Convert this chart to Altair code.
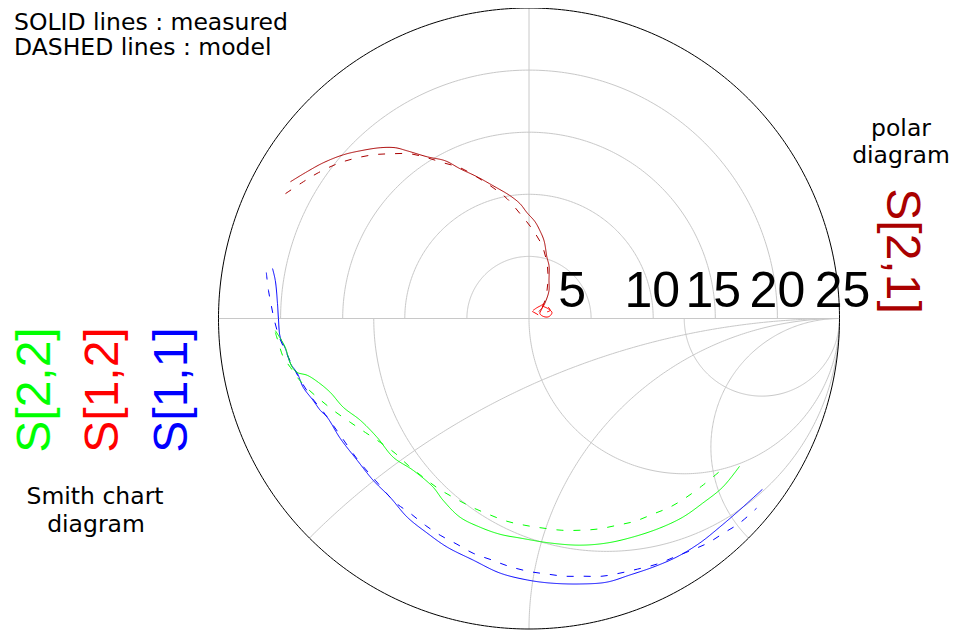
import numpy as np
import pandas as pd
import altair as alt

# ---------------- data ----------------
# S[2,1] on the polar diagram (linear magnitude, real / imaginary parts)
s21_meas_re = [-19.21, -18.01, -16.56, -14.95, -13.59, -11.98, -10.77, -9.81, -8.20, -6.75,
               -5.55, -4.18, -2.89, -1.53, -0.72, -0.16, 0.48, 0.88, 1.21, 1.45,
               1.61, 1.61, 1.61, 1.37, 1.13, 0.80]
s21_meas_im = [11.01, 11.74, 12.54, 13.18, 13.50, 13.75, 13.75, 13.50, 13.02, 12.70,
               12.06, 11.41, 10.69, 9.89, 9.24, 8.52, 7.80, 7.07, 6.27, 4.90,
               4.26, 3.05, 2.25, 1.45, 0.96, 0.56]
s21_model_re = [-19.61, -18.17, -16.96, -15.43, -14.15, -12.54, -11.17, -9.57, -8.20, -6.91,
                -5.55, -4.10, -2.89, -1.77, -0.72, 0.24, 1.05, 1.45, 1.53, 1.45,
                1.29, 0.96]
s21_model_im = [10.05, 11.01, 11.74, 12.46, 12.86, 13.18, 13.26, 13.26, 12.94, 12.54,
                12.14, 11.33, 10.53, 9.65, 8.44, 7.23, 5.87, 4.42, 3.30, 2.25,
                1.45, 0.72]

# Smith chart reflection coefficients (real / imaginary parts)
s11_meas_re = [-0.826, -0.817, -0.810, -0.807, -0.801, -0.785, -0.768, -0.746, -0.727, -0.695,
               -0.672, -0.650, -0.608, -0.553, -0.502, -0.447, -0.392, -0.328, -0.264, -0.180,
               -0.093, -0.006, 0.068, 0.164, 0.251, 0.325, 0.399, 0.476, 0.550, 0.614,
               0.678, 0.752]
s11_meas_im = [0.161, 0.122, 0.048, 0.000, -0.061, -0.096, -0.145, -0.177, -0.222, -0.264,
               -0.296, -0.318, -0.386, -0.457, -0.521, -0.576, -0.640, -0.691, -0.736, -0.778,
               -0.820, -0.842, -0.852, -0.855, -0.849, -0.826, -0.801, -0.768, -0.723, -0.672,
               -0.617, -0.550]
s11_model_re = [-0.846, -0.839, -0.830, -0.820, -0.804, -0.785, -0.762, -0.736, -0.698, -0.656,
                -0.608, -0.550, -0.495, -0.431, -0.383, -0.334, -0.286, -0.232, -0.180, -0.119,
                -0.068, -0.003, 0.058, 0.116, 0.174, 0.235, 0.293, 0.350, 0.412, 0.469,
                0.524, 0.576, 0.627, 0.678, 0.733]
s11_model_im = [0.148, 0.090, 0.042, -0.006, -0.061, -0.103, -0.151, -0.199, -0.257, -0.309,
                -0.376, -0.457, -0.521, -0.592, -0.627, -0.666, -0.698, -0.727, -0.756, -0.778,
                -0.797, -0.814, -0.823, -0.830, -0.830, -0.830, -0.820, -0.807, -0.791, -0.768,
                -0.746, -0.723, -0.691, -0.659, -0.611]

s22_meas_re = [-0.817, -0.801, -0.785, -0.775, -0.762, -0.746, -0.714, -0.678, -0.640, -0.598,
               -0.543, -0.489, -0.437, -0.373, -0.309, -0.277, -0.222, -0.158, -0.093, -0.029,
               0.068, 0.164, 0.251, 0.334, 0.421, 0.495, 0.559, 0.624, 0.678]
s22_meas_im = [-0.039, -0.064, -0.093, -0.125, -0.158, -0.174, -0.183, -0.206, -0.238, -0.286,
               -0.328, -0.383, -0.447, -0.489, -0.543, -0.585, -0.640, -0.672, -0.695, -0.707,
               -0.723, -0.730, -0.723, -0.704, -0.675, -0.640, -0.595, -0.543, -0.476]
s22_model_re = [-0.817, -0.807, -0.791, -0.768, -0.746, -0.714, -0.678, -0.630, -0.576, -0.527,
                -0.479, -0.431, -0.389, -0.341, -0.293, -0.244, -0.183, -0.132, -0.071, -0.013,
                0.045, 0.106, 0.164, 0.222, 0.283, 0.341, 0.399, 0.453, 0.502, 0.556, 0.611]
s22_model_im = [-0.045, -0.077, -0.125, -0.158, -0.190, -0.225, -0.257, -0.296, -0.334, -0.367,
                -0.399, -0.434, -0.473, -0.511, -0.547, -0.576, -0.608, -0.630, -0.653, -0.666,
                -0.675, -0.682, -0.682, -0.678, -0.666, -0.653, -0.630, -0.608, -0.579, -0.540,
                -0.495]

s12_meas_re = [0.013, 0.026, 0.039, 0.048, 0.042, 0.035, 0.048, 0.064, 0.074, 0.061, 0.045]
s12_meas_im = [0.026, 0.035, 0.042, 0.048, 0.032, 0.016, 0.006, 0.006, 0.019, 0.032, 0.039]
s12_model_re = [0.010, 0.023, 0.035, 0.051, 0.068, 0.058, 0.039]
s12_model_im = [0.023, 0.016, 0.010, 0.019, 0.026, 0.039, 0.035]

polar_ticks = [5, 10, 15, 20, 25]
polar_max = 25
smith_r = [1 / 3, 1, 3]
smith_x = [0.4142, 1.0, 2.4142]

series_names = ["S[2,1]", "S[1,2]", "S[1,1]", "S[2,2]"]
series_colors = ["#aa0000", "#ff0000", "#0000ff", "#00ff00"]

# ---------------- layout ----------------
W, H = 946, 622          # plot area (page x 8..954, y 8..630)
CX, CY, R = 521.0, 310.5, 310.5   # circle centre / radius in plot pixels
umin, umax = (0 - CX) / R, (W - CX) / R
vmin, vmax = (CY - H) / R, (CY - 0) / R

X = alt.X("u:Q", scale=alt.Scale(domain=[umin, umax], nice=False, zero=False), axis=None)
Y = alt.Y("v:Q", scale=alt.Scale(domain=[vmin, vmax], nice=False, zero=False), axis=None)

# ---------------- grid ----------------
grid_rows = []


def add(gid, us, vs, rows):
    for k, (a, b) in enumerate(zip(us, vs)):
        rows.append({"g": gid, "k": k, "u": float(a), "v": float(b)})


t_up = np.linspace(0, np.pi, 241)
for r in polar_ticks[:-1]:
    rr = r / polar_max
    add(f"p{r}", rr * np.cos(t_up), rr * np.sin(t_up), grid_rows)
add("vert", [0, 0], [0, 1], grid_rows)
add("horiz", [-1, 1], [0, 0], grid_rows)
t_low = np.linspace(np.pi, 2 * np.pi, 241)
for i, r in enumerate(smith_r):
    c, rad = r / (1 + r), 1 / (1 + r)
    add(f"r{i}", c + rad * np.cos(t_low), rad * np.sin(t_low), grid_rows)
for i, x in enumerate(smith_x):
    cx, cy, rad = 1.0, -1.0 / x, 1.0 / x
    ex, ey = (x * x - 1) / (x * x + 1), -2 * x / (x * x + 1)
    a_end = np.arctan2(ey - cy, ex - cx)
    if a_end < np.pi / 2:
        a_end += 2 * np.pi
    tt = np.linspace(np.pi / 2, a_end, 241)
    add(f"x{i}", cx + rad * np.cos(tt), cy + rad * np.sin(tt), grid_rows)
grid_df = pd.DataFrame(grid_rows)

outer_rows = []
t_all = np.linspace(0, 2 * np.pi, 481)
add("outer", np.cos(t_all), np.sin(t_all), outer_rows)
outer_df = pd.DataFrame(outer_rows)

# ---------------- curves ----------------
curve_rows = []


def add_curve(name, kind, re, im, scale=1.0):
    for k, (a, b) in enumerate(zip(re, im)):
        curve_rows.append({"series": name, "kind": kind, "k": k, "u": a / scale, "v": b / scale})


add_curve("S[2,1]", "measured", s21_meas_re, s21_meas_im, polar_max)
add_curve("S[2,1]", "model", s21_model_re, s21_model_im, polar_max)
add_curve("S[1,1]", "measured", s11_meas_re, s11_meas_im)
add_curve("S[1,1]", "model", s11_model_re, s11_model_im)
add_curve("S[2,2]", "measured", s22_meas_re, s22_meas_im)
add_curve("S[2,2]", "model", s22_model_re, s22_model_im)
add_curve("S[1,2]", "measured", s12_meas_re, s12_meas_im)
add_curve("S[1,2]", "model", s12_model_re, s12_model_im)
curve_df = pd.DataFrame(curve_rows)

grid = alt.Chart(grid_df).mark_line(color="#c8c8c8", strokeWidth=1).encode(
    x=X, y=Y, detail="g:N", order="k:Q")
outer = alt.Chart(outer_df).mark_line(color="#000000", strokeWidth=1).encode(
    x=X, y=Y, detail="g:N", order="k:Q")
curves = alt.Chart(curve_df).mark_line(strokeWidth=1, interpolate="catmull-rom").encode(
    x=X, y=Y,
    color=alt.Color("series:N", scale=alt.Scale(domain=series_names, range=series_colors), legend=None),
    strokeDash=alt.StrokeDash("kind:N", scale=alt.Scale(domain=["measured", "model"],
                                                        range=[[1, 0], [7, 10]]), legend=None),
    detail="series:N",
    order="k:Q",
)

FONT = "DejaVu Sans"
BIGFONT = "Liberation Sans"


def label(text, x, y, size, color="#000000", align="left", angle=0, font=FONT):
    return alt.Chart(pd.DataFrame({"t": [text]})).mark_text(
        align=align, baseline="alphabetic", fontSize=size, font=font, color=color, angle=angle
    ).encode(x=alt.value(x), y=alt.value(y), text="t:N")


tick_df = pd.DataFrame({"lab": [str(v) for v in polar_ticks], "u": [v / polar_max for v in polar_ticks]})
tick_dx = {"5": -19, "10": -1, "15": -2, "20": 0, "25": 3}
tick_layers = [
    alt.Chart(tick_df).transform_filter(f"datum.lab == '{lab}'").mark_text(
        align="center", baseline="alphabetic", fontSize=50, font=BIGFONT, color="#000000", dx=d
    ).encode(x=X, y=alt.value(299), text="lab:N")
    for lab, d in tick_dx.items()
]

SMALL = 23.5
texts = [
    label("SOLID lines : measured", 6, 22, SMALL),
    label("DASHED lines : model", 6, 47, SMALL),
    label("polar", 893, 128, SMALL, align="center"),
    label("diagram", 893, 155, SMALL, align="center"),
    label("Smith chart", 87, 496, SMALL, align="center"),
    label("diagram", 88, 524, SMALL, align="center"),
    label("S[2,1]", 879, 243, 48, color=series_colors[0], align="center", angle=90, font=BIGFONT),
    label("S[2,2]", 42, 382, 48, color=series_colors[3], align="center", angle=270, font=BIGFONT),
    label("S[1,2]", 110, 382, 48, color=series_colors[1], align="center", angle=270, font=BIGFONT),
    label("S[1,1]", 179, 382, 48, color=series_colors[2], align="center", angle=270, font=BIGFONT),
]

chart = alt.layer(grid, outer, curves, *tick_layers, *texts).properties(
    width=W, height=H, padding=0, autosize=alt.AutoSizeParams(type="none")
).configure_view(stroke=None)

chart.save("out.html", embed_options={"renderer": "svg", "actions": False})
